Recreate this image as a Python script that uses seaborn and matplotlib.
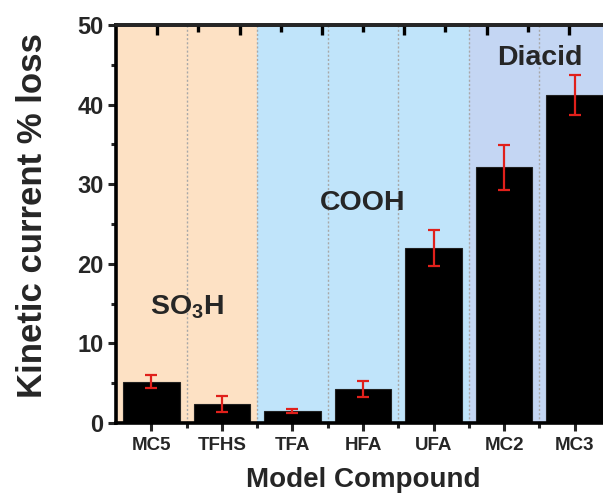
import matplotlib
matplotlib.use("Agg")
import matplotlib.pyplot as plt
from matplotlib.ticker import FixedLocator
import seaborn as sns
import pandas as pd

# Kinetic current loss per model compound
compounds = ["MC5", "TFHS", "TFA", "HFA", "UFA", "MC2", "MC3"]
loss = [5.2, 2.4, 1.5, 4.3, 22.0, 32.1, 41.2]
loss_err = [0.8, 1.0, 0.3, 1.0, 2.3, 2.8, 2.5]

# Acid-group families and how many compounds each covers
groups = ["$\\mathbf{SO_3H}$", "COOH", "Diacid"]
group_sizes = [2, 3, 2]
group_colors = ["#FDE1C4", "#C0E4FA", "#C4D6F3"]
group_label_y = [14.5, 27.6, 45.8]

sns.set_style("ticks")
plt.rcParams["font.family"] = ["Liberation Sans", "DejaVu Sans"]
plt.rcParams["font.weight"] = "bold"
plt.rcParams["mathtext.fontset"] = "custom"
plt.rcParams["mathtext.bf"] = "Liberation Sans:bold"
plt.rcParams["mathtext.rm"] = "Liberation Sans:bold"

df = pd.DataFrame({"compound": compounds, "loss": loss})

fig = plt.figure(figsize=(6.03, 4.95), dpi=100)
ax = fig.add_axes([116 / 603, 1 - 423 / 495, 494 / 603, 398 / 495])

# shaded family backgrounds and dotted separators
start = -0.5
for size, color in zip(group_sizes, group_colors):
    ax.axvspan(start, start + size, color=color, zorder=0, lw=0)
    start += size
for i in range(len(compounds) - 1):
    ax.axvline(i + 0.5, color="#A8A8A8", lw=1.0, ls=(0, (1.5, 1.5)), zorder=0.5)

sns.barplot(data=df, x="compound", y="loss", color="black", edgecolor="#202020",
            linewidth=0.8, width=0.8, errorbar=None, saturation=1, ax=ax, zorder=2)
ax.errorbar(range(len(compounds)), loss, yerr=loss_err, fmt="none",
            ecolor="#E0201B", elinewidth=1.6, capsize=4, capthick=1.6, zorder=3)

# family labels
start = -0.5
for name, size, ly in zip(groups, group_sizes, group_label_y):
    ax.text(start + size / 2, ly, name, ha="center", va="center",
            fontsize=20.5, fontweight="bold", zorder=4)
    start += size

n = len(compounds)
ax.set_xlim(-0.5, n - 0.5)
ax.set_ylim(0, 50)
ax.set_yticks([0, 10, 20, 30, 40, 50])
ax.yaxis.set_minor_locator(FixedLocator([5, 15, 25, 35, 45]))
ax.xaxis.set_minor_locator(FixedLocator([i + 0.5 for i in range(n - 1)]))

for side in ["left", "bottom", "top", "right"]:
    ax.spines[side].set_linewidth(2.6)
    ax.spines[side].set_color("black")
    ax.spines[side].set_zorder(5)

ax.tick_params(axis="y", which="major", direction="out", length=6, width=2.2,
               labelsize=17, pad=3)
ax.tick_params(axis="y", which="minor", direction="out", length=3.5, width=2.2)
ax.tick_params(axis="x", which="major", direction="out", length=6, width=2.2,
               labelsize=13.5, pad=4)
ax.tick_params(axis="x", which="minor", direction="out", length=3.5, width=2.2)
for lab in ax.get_xticklabels() + ax.get_yticklabels():
    lab.set_fontweight("bold")

ax.set_xlabel("Model Compound", fontsize=20, fontweight="bold")
ax.set_ylabel("Kinetic current % loss", fontsize=25, fontweight="bold")
ax.xaxis.set_label_coords(0.5, -0.11)
ax.yaxis.set_label_coords(-0.135, 0.52)

# top axis on its own scale: six units across the frame
top_units = 6
sec = ax.secondary_xaxis(
    "top",
    functions=(lambda x: (x + 0.5) * top_units / n,
               lambda u: u * n / top_units - 0.5),
)
sec.xaxis.set_major_locator(FixedLocator([k + 0.5 for k in range(top_units)]))
sec.xaxis.set_minor_locator(FixedLocator(list(range(1, top_units))))
sec.tick_params(axis="x", which="major", direction="in", length=7.5, width=2.4,
                color="black", labeltop=False, top=True)
sec.tick_params(axis="x", which="minor", direction="in", length=5, width=2.4,
                color="black", top=True)
sec.spines["top"].set_linewidth(2.6)
sec.set_zorder(6)

fig.savefig("out.png", dpi=100)
